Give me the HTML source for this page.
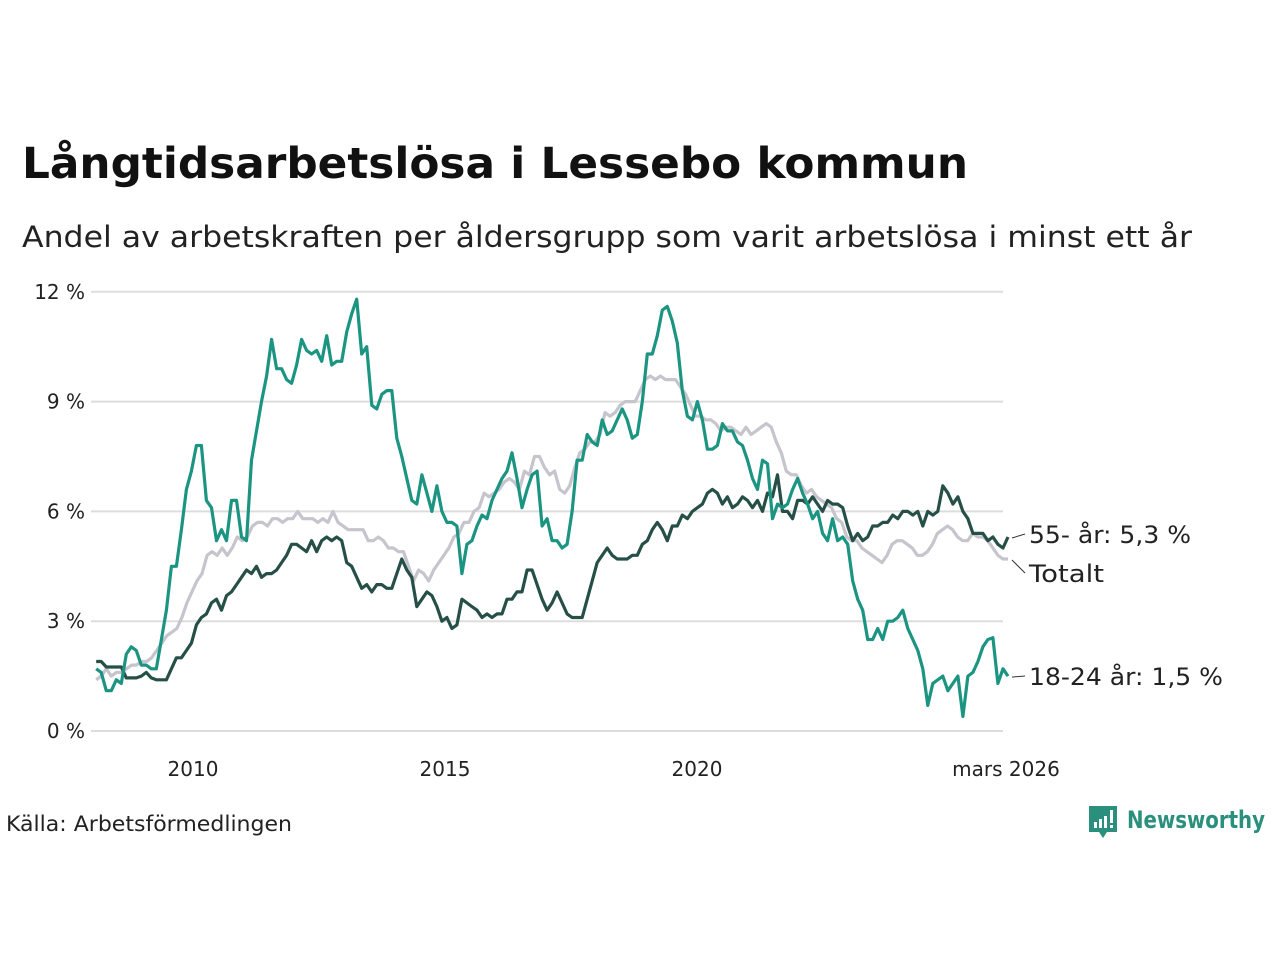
<!DOCTYPE html>
<html><head><meta charset="utf-8"><style>
body{margin:0;background:#fff;width:1280px;height:960px;overflow:hidden;font-family:"DejaVu Sans","Liberation Sans",sans-serif}
</style></head><body>
<svg id="c" width="1280" height="960" style="position:absolute;left:0;top:0;font-family:'DejaVu Sans','Liberation Sans',sans-serif">
<text x="22" y="178" font-size="43" font-weight="bold" fill="#111" textLength="946" lengthAdjust="spacingAndGlyphs">Långtidsarbetslösa i Lessebo kommun</text>
<text x="22" y="247" font-size="29" fill="#222" textLength="1170" lengthAdjust="spacingAndGlyphs">Andel av arbetskraften per åldersgrupp som varit arbetslösa i minst ett år</text>
<g id="grid"></g>
<g id="yt"></g>
<g id="xt"></g>
<g id="lines"></g>
<g id="labels"></g>
<text x="6" y="831" font-size="21" fill="#222" textLength="286" lengthAdjust="spacingAndGlyphs">Källa: Arbetsförmedlingen</text>
<g>
<path d="M1089 806 h28 v26 h-10 l-4 6 l-4 -6 h-10 z" fill="#2a8f7d"/>
<rect x="1094" y="822" width="3" height="6" fill="#fff"/><rect x="1099" y="819" width="3" height="9" fill="#fff"/><rect x="1104" y="816" width="3" height="12" fill="#fff"/><rect x="1110" y="810" width="3" height="13" fill="#fff"/><rect x="1110" y="825" width="3" height="3" fill="#fff"/>
<text x="1127" y="828" font-size="24" font-weight="bold" fill="#2a8f7d" textLength="138" lengthAdjust="spacingAndGlyphs">Newsworthy</text>
</g>
</svg>
<script>
const yTicks=[0,3,6,9,12];
const xTickYears=[2010,2015,2020];
const xTickLabels=["2010","2015","2020","mars 2026"];
const startYear=2008.08, endYear=2026.17;
const young=[1.7,1.6,1.1,1.1,1.4,1.3,2.1,2.3,2.2,1.8,1.8,1.7,1.7,2.5,3.3,4.5,4.5,5.5,6.6,7.1,7.8,7.8,6.3,6.1,5.2,5.5,5.2,6.3,6.3,5.3,5.2,7.4,8.2,9.0,9.7,10.7,9.9,9.9,9.6,9.5,10.0,10.7,10.4,10.3,10.4,10.1,10.8,10.0,10.1,10.1,10.9,11.4,11.8,10.3,10.5,8.9,8.8,9.2,9.3,9.3,8.0,7.5,6.9,6.3,6.2,7.0,6.5,6.0,6.7,6.0,5.7,5.7,5.6,4.3,5.1,5.2,5.6,5.9,5.8,6.3,6.6,6.9,7.1,7.6,6.9,6.1,6.6,7.0,7.1,5.6,5.8,5.2,5.2,5.0,5.1,6.0,7.4,7.4,8.1,7.9,7.8,8.5,8.1,8.2,8.5,8.8,8.5,8.0,8.1,9.0,10.3,10.3,10.8,11.5,11.6,11.2,10.6,9.3,8.6,8.5,9.0,8.5,7.7,7.7,7.8,8.4,8.2,8.2,7.9,7.8,7.4,6.9,6.6,7.4,7.3,5.8,6.2,6.1,6.2,6.6,6.9,6.5,6.2,5.8,6.0,5.4,5.2,5.8,5.2,5.3,5.1,4.1,3.6,3.3,2.5,2.5,2.8,2.5,3.0,3.0,3.1,3.3,2.8,2.5,2.2,1.7,0.7,1.3,1.4,1.5,1.1,1.3,1.5,0.4,1.5,1.6,1.9,2.3,2.5,2.55,1.3,1.7,1.5];
const senior=[1.9,1.9,1.75,1.75,1.75,1.75,1.45,1.45,1.45,1.5,1.6,1.45,1.4,1.4,1.4,1.7,2.0,2.0,2.2,2.4,2.9,3.1,3.2,3.5,3.6,3.3,3.7,3.8,4.0,4.2,4.4,4.3,4.5,4.2,4.3,4.3,4.4,4.6,4.8,5.1,5.1,5.0,4.9,5.2,4.9,5.2,5.3,5.2,5.3,5.2,4.6,4.5,4.2,3.9,4.0,3.8,4.0,4.0,3.9,3.9,4.3,4.7,4.4,4.2,3.4,3.6,3.8,3.7,3.4,3.0,3.1,2.8,2.9,3.6,3.5,3.4,3.3,3.1,3.2,3.1,3.2,3.2,3.6,3.6,3.8,3.8,4.4,4.4,4.0,3.6,3.3,3.5,3.8,3.5,3.2,3.1,3.1,3.1,3.6,4.1,4.6,4.8,5.0,4.8,4.7,4.7,4.7,4.8,4.8,5.1,5.2,5.5,5.7,5.5,5.2,5.6,5.6,5.9,5.8,6.0,6.1,6.2,6.5,6.6,6.5,6.2,6.4,6.1,6.2,6.4,6.3,6.1,6.3,6.0,6.5,6.4,7.0,6.0,6.0,5.8,6.3,6.3,6.2,6.4,6.2,6.0,6.3,6.2,6.2,6.1,5.6,5.2,5.4,5.2,5.3,5.6,5.6,5.7,5.7,5.9,5.8,6.0,6.0,5.9,6.0,5.6,6.0,5.9,6.0,6.7,6.5,6.2,6.4,6.0,5.8,5.4,5.4,5.4,5.2,5.3,5.1,5.0,5.3];
const total=[1.4,1.5,1.7,1.5,1.6,1.6,1.7,1.8,1.8,1.9,1.9,2.0,2.2,2.4,2.6,2.7,2.8,3.1,3.5,3.8,4.1,4.3,4.8,4.9,4.8,5.0,4.8,5.0,5.3,5.2,5.3,5.6,5.7,5.7,5.6,5.8,5.8,5.7,5.8,5.8,6.0,5.8,5.8,5.8,5.7,5.8,5.7,6.0,5.7,5.6,5.5,5.5,5.5,5.5,5.2,5.2,5.3,5.2,5.0,5.0,4.9,4.9,4.5,4.1,4.4,4.3,4.1,4.4,4.6,4.8,5.0,5.3,5.4,5.7,5.7,6.0,6.1,6.5,6.4,6.5,6.6,6.8,6.9,6.8,6.6,7.1,7.0,7.5,7.5,7.2,7.0,7.1,6.6,6.5,6.7,7.2,7.6,7.7,7.9,7.9,8.1,8.7,8.6,8.7,8.9,9.0,9.0,9.0,9.3,9.6,9.7,9.6,9.7,9.6,9.6,9.6,9.4,9.2,8.9,8.6,8.6,8.5,8.5,8.4,8.2,8.3,8.3,8.2,8.1,8.3,8.1,8.2,8.3,8.4,8.3,7.9,7.6,7.1,7.0,7.0,6.7,6.5,6.6,6.4,6.3,6.2,6.1,5.8,5.7,5.3,5.2,5.2,5.0,4.9,4.8,4.7,4.6,4.8,5.1,5.2,5.2,5.1,5.0,4.8,4.8,4.9,5.1,5.4,5.5,5.6,5.5,5.3,5.2,5.2,5.4,5.3,5.3,5.2,5.0,4.8,4.7,4.7];
const NS="http://www.w3.org/2000/svg";
const X=yr=>193+(yr-2010)*50.4;
const Y=v=>731-v*36.6;
function mk(tag,attrs,parent){const e=document.createElementNS(NS,tag);for(const k in attrs)e.setAttribute(k,attrs[k]);document.getElementById(parent).appendChild(e);return e;}
yTicks.forEach(t=>{
  const l=mk('line',{x1:91,x2:1003,y1:Y(t),y2:Y(t),stroke:'#dddddd','stroke-width':2},'grid');
  
  
  const tx=mk('text',{x:85,y:Y(t)+7,'font-size':20,fill:'#222','text-anchor':'end'},'yt');
  tx.textContent=t+' %';
  
  
});
xTickYears.forEach((yr,i)=>{
  const tx=mk('text',{x:X(yr),y:776,'font-size':20,fill:'#222','text-anchor':'middle'},'xt');
  tx.textContent=xTickLabels[i];
  
  
});
const lastTx=mk('text',{x:1006,y:776,'font-size':20,fill:'#222','text-anchor':'middle'},'xt');
lastTx.textContent=xTickLabels[3];


function draw(vals,color,name){
  const n=vals.length;
  const pts=vals.map((v,i)=>X(startYear+(endYear-startYear)*i/(n-1)).toFixed(1)+','+Y(v).toFixed(1)).join(' ');
  const p=mk('polyline',{points:pts,fill:'none',stroke:color,'stroke-width':3.2,'stroke-linejoin':'round'},'lines');
  
  
}
draw(total,'#c6c4cc','line-totalt');
draw(senior,'#264f48','line-55-ar');
draw(young,'#1b9482','line-18-24-ar');
function lab(v,ly,text,w,name){
  const x0=X(endYear)+4;
  const l=mk('line',{x1:x0,y1:Y(v)+1,x2:x0+13,y2:ly-9,stroke:'#333','stroke-width':1},'labels');
  
  
  const t=mk('text',{x:1029,y:ly,'font-size':24,fill:'#222',textLength:w,lengthAdjust:'spacingAndGlyphs'},'labels');
  t.textContent=text;
  
  
}
lab(senior[senior.length-1],543,'55- år: 5,3 %',162,'label-55-ar');
lab(total[total.length-1],582,'Totalt',75,'label-totalt');
lab(young[young.length-1],685,'18-24 år: 1,5 %',194,'label-18-24-ar');
</script>
</body></html>
